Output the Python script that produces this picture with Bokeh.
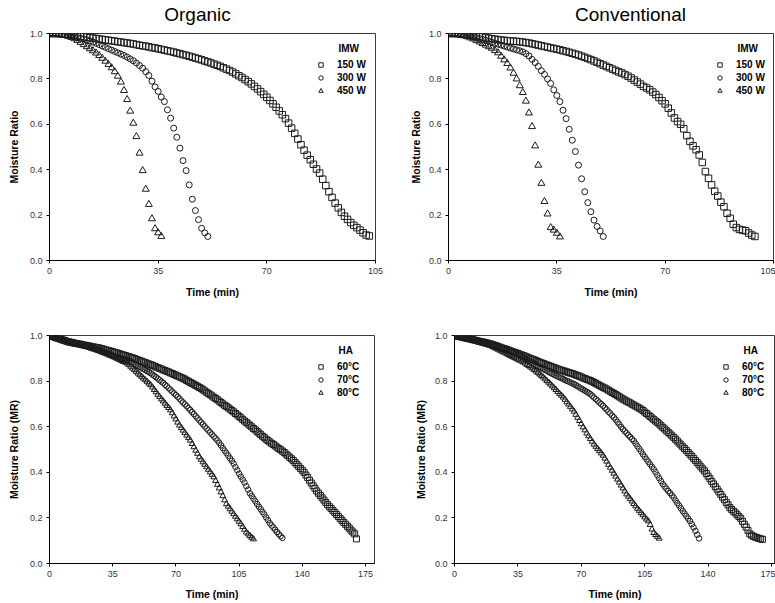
from bokeh.plotting import figure
from bokeh.layouts import column, row
from bokeh.models import Range1d, FixedTicker, PrintfTickFormatter, Legend, LegendItem, Label
from bokeh.embed import file_html
from bokeh.resources import INLINE

FONT = "Liberation Sans"
INK = "#1c1c1c"

# ---------------- data (moisture ratio, one reading per minute) ----------------
panel_titles = ["Organic", "Conventional"]
imw_labels = ["150 W", "300 W", "450 W"]
ha_labels = ["60\u00b0C", "70\u00b0C", "80\u00b0C"]
x_ticks_imw = [0, 35, 70, 105]
x_ticks_ha = [0, 35, 70, 105, 140, 175]
y_ticks = [0.0, 0.2, 0.4, 0.6, 0.8, 1.0]

org_150w = [1.000, 1.000, 1.000, 0.999, 0.998, 0.997, 0.995, 0.994, 0.992, 0.990,
            0.988, 0.986, 0.984, 0.982, 0.980, 0.978, 0.976, 0.974, 0.972, 0.970,
            0.968, 0.966, 0.964, 0.962, 0.960, 0.958, 0.956, 0.954, 0.951, 0.948,
            0.946, 0.944, 0.941, 0.938, 0.936, 0.933, 0.930, 0.927, 0.924, 0.921,
            0.918, 0.914, 0.911, 0.907, 0.904, 0.900, 0.896, 0.892, 0.888, 0.884,
            0.879, 0.875, 0.870, 0.865, 0.860, 0.855, 0.849, 0.843, 0.837, 0.830,
            0.822, 0.814, 0.806, 0.797, 0.788, 0.778, 0.767, 0.756, 0.744, 0.732,
            0.719, 0.705, 0.690, 0.675, 0.659, 0.642, 0.625, 0.605, 0.583, 0.560,
            0.535, 0.510, 0.486, 0.464, 0.444, 0.424, 0.403, 0.385, 0.358, 0.330,
            0.303, 0.278, 0.253, 0.232, 0.212, 0.195, 0.181, 0.167, 0.155, 0.145,
            0.134, 0.122, 0.112, 0.108]
org_300w = [1.000, 1.000, 0.999, 0.998, 0.996, 0.994, 0.991, 0.988, 0.985, 0.982,
            0.979, 0.976, 0.972, 0.967, 0.962, 0.957, 0.951, 0.945, 0.939, 0.933,
            0.927, 0.921, 0.915, 0.909, 0.903, 0.896, 0.888, 0.880, 0.870, 0.859,
            0.847, 0.832, 0.815, 0.790, 0.765, 0.745, 0.720, 0.700, 0.664, 0.627,
            0.583, 0.543, 0.495, 0.440, 0.396, 0.333, 0.270, 0.220, 0.180, 0.142,
            0.122, 0.106]
org_450w = [1.000, 1.000, 0.999, 0.997, 0.995, 0.992, 0.988, 0.983, 0.977, 0.970,
            0.961, 0.951, 0.942, 0.933, 0.924, 0.914, 0.903, 0.891, 0.878, 0.864,
            0.849, 0.832, 0.812, 0.786, 0.749, 0.709, 0.658, 0.605, 0.546, 0.473,
            0.396, 0.314, 0.247, 0.184, 0.140, 0.122, 0.106]

con_150w = [1.000, 1.000, 1.000, 0.999, 0.998, 0.997, 0.995, 0.993, 0.991, 0.989,
            0.987, 0.985, 0.982, 0.979, 0.977, 0.975, 0.973, 0.971, 0.970, 0.968,
            0.967, 0.966, 0.965, 0.964, 0.962, 0.960, 0.958, 0.955, 0.952, 0.949,
            0.946, 0.943, 0.940, 0.937, 0.934, 0.931, 0.928, 0.924, 0.921, 0.917,
            0.913, 0.909, 0.905, 0.900, 0.895, 0.890, 0.885, 0.879, 0.873, 0.867,
            0.861, 0.855, 0.849, 0.843, 0.837, 0.831, 0.826, 0.819, 0.812, 0.804,
            0.795, 0.786, 0.777, 0.767, 0.760, 0.752, 0.742, 0.731, 0.718, 0.704,
            0.690, 0.671, 0.650, 0.628, 0.612, 0.600, 0.580, 0.550, 0.525, 0.505,
            0.488, 0.465, 0.432, 0.392, 0.362, 0.333, 0.305, 0.284, 0.257, 0.237,
            0.208, 0.186, 0.160, 0.145, 0.137, 0.134, 0.131, 0.121, 0.112, 0.106]
con_300w = [1.000, 1.000, 1.000, 0.999, 0.997, 0.995, 0.992, 0.989, 0.986, 0.982,
            0.978, 0.974, 0.970, 0.965, 0.961, 0.957, 0.953, 0.949, 0.945, 0.940,
            0.936, 0.932, 0.928, 0.924, 0.919, 0.911, 0.901, 0.886, 0.872, 0.855,
            0.836, 0.820, 0.800, 0.780, 0.752, 0.727, 0.700, 0.662, 0.625, 0.578,
            0.530, 0.480, 0.420, 0.360, 0.303, 0.255, 0.215, 0.178, 0.150, 0.130,
            0.106]
con_450w = [1.000, 1.000, 0.999, 0.997, 0.994, 0.990, 0.986, 0.981, 0.976, 0.970,
            0.963, 0.956, 0.949, 0.942, 0.935, 0.925, 0.915, 0.900, 0.884, 0.868,
            0.848, 0.825, 0.800, 0.770, 0.740, 0.702, 0.650, 0.590, 0.505, 0.420,
            0.340, 0.260, 0.205, 0.145, 0.134, 0.120, 0.104]

org_60c = [1.000, 0.997, 0.995, 0.992, 0.989, 0.987, 0.984, 0.981, 0.979, 0.976, 0.973,
           0.971, 0.970, 0.968, 0.966, 0.965, 0.963, 0.962, 0.960, 0.958, 0.957,
           0.955, 0.954, 0.952, 0.950, 0.949, 0.947, 0.946, 0.944,
           0.942, 0.940, 0.937, 0.935, 0.933, 0.931, 0.929, 0.926, 0.924,
           0.922, 0.919, 0.917, 0.914, 0.912, 0.909, 0.907, 0.904, 0.902, 0.899,
           0.896, 0.893, 0.890, 0.887, 0.884, 0.881, 0.878, 0.875, 0.872,
           0.869, 0.866, 0.862, 0.859, 0.856, 0.853, 0.849, 0.846, 0.843,
           0.840, 0.836, 0.833, 0.829, 0.826, 0.822, 0.819, 0.815, 0.812,
           0.808, 0.803, 0.799, 0.794, 0.790, 0.786, 0.781, 0.777, 0.772, 0.768,
           0.762, 0.757, 0.751, 0.746, 0.740, 0.735, 0.729, 0.724, 0.718,
           0.712, 0.706, 0.700, 0.694, 0.689, 0.683, 0.677, 0.671, 0.665,
           0.658, 0.652, 0.645, 0.639, 0.632, 0.625, 0.619, 0.612, 0.606,
           0.599, 0.592, 0.586, 0.579, 0.572, 0.565, 0.558, 0.552, 0.545,
           0.539, 0.533, 0.527, 0.522, 0.516, 0.510, 0.504, 0.499, 0.493, 0.487,
           0.480, 0.473, 0.466, 0.459, 0.452,
           0.443, 0.435, 0.426, 0.417, 0.409, 0.400,
           0.388, 0.377, 0.365, 0.353, 0.341, 0.330, 0.318,
           0.308, 0.298, 0.288, 0.278, 0.268, 0.258,
           0.249, 0.241, 0.232, 0.224, 0.215,
           0.206, 0.197, 0.189, 0.180,
           0.172, 0.163, 0.155, 0.146,
           0.138, 0.130, 0.108]
org_70c = [1.000, 0.998, 0.995, 0.993, 0.990, 0.988, 0.985, 0.983, 0.980, 0.978, 0.975,
           0.973, 0.971, 0.969, 0.967, 0.965, 0.963, 0.961, 0.959, 0.957, 0.955,
           0.952, 0.950, 0.947, 0.945, 0.942, 0.940, 0.937, 0.935,
           0.932, 0.928, 0.925, 0.922, 0.918, 0.915, 0.912,
           0.909, 0.906, 0.904, 0.901, 0.899, 0.897, 0.895,
           0.891, 0.887, 0.884, 0.880, 0.876,
           0.871, 0.867, 0.862, 0.858, 0.853, 0.849, 0.844, 0.840, 0.835,
           0.829, 0.823, 0.817, 0.811, 0.804, 0.798, 0.792,
           0.784, 0.777, 0.769, 0.762, 0.754, 0.746, 0.739, 0.731,
           0.723, 0.714, 0.706, 0.698, 0.690, 0.681, 0.673,
           0.664, 0.655, 0.646, 0.637, 0.628, 0.619, 0.610,
           0.601, 0.592, 0.584, 0.575, 0.566, 0.557, 0.549, 0.540,
           0.529, 0.518, 0.506, 0.495, 0.484,
           0.473, 0.461, 0.450, 0.438,
           0.423, 0.409, 0.394,
           0.381, 0.368, 0.355,
           0.339, 0.324, 0.308,
           0.296, 0.284, 0.273, 0.261,
           0.249, 0.238, 0.226, 0.215,
           0.202, 0.190, 0.177,
           0.167, 0.158, 0.148, 0.138,
           0.129, 0.120, 0.112]
org_80c = [1.000, 0.998, 0.995, 0.993, 0.990, 0.988, 0.985, 0.983, 0.980, 0.978, 0.975,
           0.973, 0.971, 0.968, 0.966, 0.964, 0.962, 0.960, 0.957, 0.955, 0.953,
           0.950, 0.947, 0.944, 0.941, 0.939, 0.936, 0.933, 0.930,
           0.927, 0.924, 0.921, 0.918, 0.914, 0.911, 0.908,
           0.904, 0.900, 0.896, 0.893, 0.889, 0.885, 0.882, 0.878,
           0.871, 0.864, 0.856, 0.849, 0.842, 0.834, 0.827,
           0.820, 0.812, 0.805, 0.798, 0.790, 0.783,
           0.773, 0.762, 0.752, 0.741, 0.731,
           0.721, 0.712, 0.702, 0.692, 0.683, 0.673,
           0.660, 0.646, 0.633, 0.619, 0.606,
           0.595, 0.584, 0.573, 0.562, 0.551, 0.540,
           0.525, 0.511, 0.496, 0.482, 0.467,
           0.456, 0.445, 0.434, 0.423,
           0.412, 0.401, 0.390, 0.379,
           0.363, 0.346, 0.330, 0.313,
           0.296, 0.278, 0.261,
           0.250, 0.239, 0.228, 0.217,
           0.206, 0.195, 0.184, 0.173,
           0.161, 0.149, 0.137,
           0.129, 0.121, 0.114, 0.107]

con_60c = [1.000, 0.998, 0.996, 0.995, 0.993, 0.991, 0.989, 0.987, 0.986, 0.984, 0.982,
           0.980, 0.978, 0.976, 0.974, 0.972, 0.971, 0.969, 0.967, 0.965, 0.963,
           0.960, 0.957, 0.955, 0.952, 0.949, 0.946, 0.943, 0.941, 0.938,
           0.935, 0.932, 0.929, 0.926, 0.924, 0.921, 0.918, 0.915, 0.912,
           0.909, 0.906, 0.902, 0.899, 0.896, 0.893, 0.890, 0.886, 0.883,
           0.880, 0.877, 0.874, 0.871, 0.868, 0.865, 0.862, 0.859, 0.856, 0.853,
           0.850, 0.848, 0.845, 0.843, 0.840, 0.838, 0.835, 0.833, 0.830,
           0.827, 0.824, 0.821, 0.818, 0.814, 0.811, 0.808, 0.805, 0.802,
           0.798, 0.794, 0.790, 0.786, 0.781, 0.777, 0.773, 0.769, 0.765,
           0.760, 0.755, 0.750, 0.746, 0.741, 0.736, 0.731, 0.726, 0.721,
           0.717, 0.712, 0.708, 0.704, 0.699, 0.695, 0.690, 0.686, 0.681, 0.677,
           0.671, 0.664, 0.658, 0.651, 0.645, 0.638, 0.632, 0.625, 0.619,
           0.612, 0.604, 0.597, 0.590, 0.582, 0.575, 0.568, 0.560, 0.553,
           0.545, 0.537, 0.528, 0.520, 0.512, 0.504, 0.496, 0.487, 0.479,
           0.470, 0.461, 0.452, 0.443, 0.433, 0.424, 0.415, 0.406,
           0.395, 0.383, 0.372, 0.360, 0.349, 0.337, 0.326,
           0.314, 0.303, 0.291, 0.280, 0.268, 0.257, 0.245,
           0.237, 0.229, 0.222, 0.214, 0.206, 0.198,
           0.185, 0.172, 0.160, 0.145, 0.130,
           0.124, 0.119, 0.116, 0.113, 0.110, 0.108, 0.106]
con_70c = [1.000, 0.998, 0.996, 0.995, 0.993, 0.991, 0.989, 0.987, 0.986, 0.984, 0.982,
           0.980, 0.977, 0.975, 0.973, 0.971, 0.969, 0.966, 0.964, 0.962, 0.960,
           0.958, 0.955, 0.953, 0.950, 0.948, 0.945, 0.943, 0.940, 0.938, 0.935,
           0.931, 0.927, 0.924, 0.920, 0.916, 0.912, 0.909, 0.905,
           0.900, 0.895, 0.890, 0.885, 0.880, 0.876, 0.871, 0.866, 0.861,
           0.857, 0.853, 0.849, 0.845, 0.840, 0.836, 0.832, 0.828, 0.824,
           0.820, 0.816, 0.813, 0.809, 0.805, 0.801, 0.798, 0.794, 0.790, 0.787,
           0.782, 0.777, 0.772, 0.767, 0.763, 0.758, 0.753, 0.748, 0.743,
           0.736, 0.728, 0.721, 0.714, 0.706, 0.699, 0.692,
           0.683, 0.675, 0.666, 0.658, 0.649, 0.641,
           0.631, 0.620, 0.610, 0.599, 0.589,
           0.580, 0.572, 0.563, 0.555, 0.546, 0.538,
           0.526, 0.514, 0.503, 0.491, 0.479,
           0.468, 0.457, 0.446, 0.435, 0.424, 0.413,
           0.400, 0.387, 0.374, 0.361, 0.348,
           0.338, 0.328, 0.318, 0.309, 0.299, 0.289,
           0.277, 0.265, 0.254, 0.242, 0.230,
           0.219, 0.208, 0.197, 0.186,
           0.172, 0.158, 0.143, 0.126, 0.110]
con_80c = [1.000, 0.998, 0.996, 0.994, 0.992, 0.990, 0.988, 0.986, 0.984, 0.982, 0.980,
           0.977, 0.975, 0.972, 0.970, 0.967, 0.965, 0.962, 0.960, 0.957, 0.955,
           0.951, 0.947, 0.943, 0.939, 0.935, 0.931, 0.927, 0.923, 0.919,
           0.915, 0.911, 0.907, 0.903, 0.899, 0.895, 0.891, 0.887, 0.883,
           0.878, 0.872, 0.867, 0.861, 0.856, 0.850,
           0.843, 0.837, 0.830, 0.823, 0.817,
           0.809, 0.801, 0.794, 0.786, 0.778, 0.770,
           0.762, 0.753, 0.745, 0.737, 0.729,
           0.719, 0.708, 0.698, 0.688, 0.677, 0.667,
           0.653, 0.640, 0.626,
           0.612, 0.598, 0.585, 0.571,
           0.559, 0.547, 0.535, 0.523,
           0.513, 0.503, 0.494, 0.484, 0.474,
           0.461, 0.448, 0.434, 0.421,
           0.408, 0.395, 0.382, 0.369, 0.356,
           0.343, 0.330, 0.317, 0.304,
           0.294, 0.283, 0.273, 0.262, 0.252, 0.241,
           0.232, 0.222, 0.213, 0.203, 0.194,
           0.186, 0.170, 0.150,
           0.135, 0.126, 0.118, 0.110]


def minutes(values):
    return list(range(len(values)))


def make_panel(width, height, borders, xmax, xticks, ylabel, series, labels,
               legend_title, sizes, ylab_standoff, xlab_standoff):
    left, right, top, bottom = borders
    frame_h = height - top - bottom
    p = figure(width=width, height=height, x_range=Range1d(0, xmax), y_range=Range1d(0, 1),
               output_backend="svg", toolbar_location=None,
               min_border_left=left, min_border_right=right,
               min_border_top=top, min_border_bottom=bottom)
    p.grid.visible = False
    p.outline_line_color = "#3a3a3a"
    p.outline_line_width = 1
    for ax in (p.xaxis[0], p.yaxis[0]):
        ax.axis_line_color = "black"
        ax.axis_line_width = 1
        ax.major_tick_line_color = "black"
        ax.major_tick_out = 3
        ax.major_tick_in = 0
        ax.minor_tick_line_color = None
        ax.major_label_text_font = FONT
        ax.major_label_text_font_size = "9px"
        ax.major_label_text_color = "#33333f"
        ax.major_label_standoff = 4
        ax.axis_label_text_font = FONT
        ax.axis_label_text_font_size = "10.5px"
        ax.axis_label_text_font_style = "bold"
        ax.axis_label_text_color = "black"
    p.xaxis.ticker = FixedTicker(ticks=xticks)
    p.yaxis.ticker = FixedTicker(ticks=y_ticks)
    p.yaxis.formatter = PrintfTickFormatter(format="%.1f")
    p.xaxis.axis_label = "Time (min)"
    p.yaxis.axis_label = ylabel
    p.yaxis.axis_label_standoff = ylab_standoff
    p.xaxis.axis_label_standoff = xlab_standoff

    items = []
    for vals, lab, mk, sz in zip(series, labels, ["square", "circle", "triangle"], sizes):
        r = p.scatter(minutes(vals), vals, marker=mk, size=sz, fill_color=None,
                      line_color=INK, line_width=1)
        items.append(LegendItem(label=lab, renderers=[r]))
    leg = Legend(items=items, location=(266, frame_h - 64), orientation="vertical",
                 label_text_font=FONT, label_text_font_size="10px",
                 label_text_font_style="bold", label_text_color="black",
                 glyph_width=11, glyph_height=11, label_height=13, spacing=0,
                 label_standoff=11, padding=0, margin=0,
                 border_line_color=None, background_fill_alpha=0)
    p.add_layout(leg)
    p.add_layout(Label(x=289, y=frame_h - 14.5, x_units="screen", y_units="screen",
                       text=legend_title, text_font=FONT, text_font_size="10px",
                       text_font_style="bold", text_baseline="middle", text_align="left",
                       text_color="black"))
    return p


# strip holding the two column headings
head = figure(width=775, height=26, x_range=Range1d(0, 775), y_range=Range1d(0, 26),
              x_axis_type=None, y_axis_type=None, output_backend="svg", title=None,
              toolbar_location=None, min_border=0, outline_line_color=None)
head.min_border_top = 0
head.min_border_bottom = 0
head.min_border_left = 0
head.min_border_right = 0
head.grid.visible = False
for txt, cx in zip(panel_titles, [197, 630]):
    head.add_layout(Label(x=cx, y=11.6, x_units="screen", y_units="screen", text=txt,
                          text_font=FONT, text_font_size="19px", text_align="center",
                          text_baseline="middle", text_color="black"))

p1 = make_panel(390, 274, (49, 15, 7, 40), 105, x_ticks_imw, "Moisture Ratio",
                [org_150w, org_300w, org_450w], imw_labels, "IMW", [6.5, 6, 7], 7, 9)
p2 = make_panel(385, 274, (58, 2, 7, 40), 105, x_ticks_imw, "Moisture Ratio",
                [con_150w, con_300w, con_450w], imw_labels, "IMW", [6.5, 6, 7], 4, 9)
p3 = make_panel(390, 303, (49, 16, 35, 40), 180, x_ticks_ha, "Moisture Ratio (MR)",
                [org_60c, org_70c, org_80c], ha_labels, "HA", [6, 5.5, 6], 7, 8)
p4 = make_panel(385, 303, (64, 0, 35, 40), 177.2, x_ticks_ha, "Moisture Ratio (MR)",
                [con_60c, con_70c, con_80c], ha_labels, "HA", [6, 5.5, 6], 5, 8)

layout = column(head, row(p1, p2), row(p3, p4))
open("out.html", "w").write(file_html(layout, INLINE))
